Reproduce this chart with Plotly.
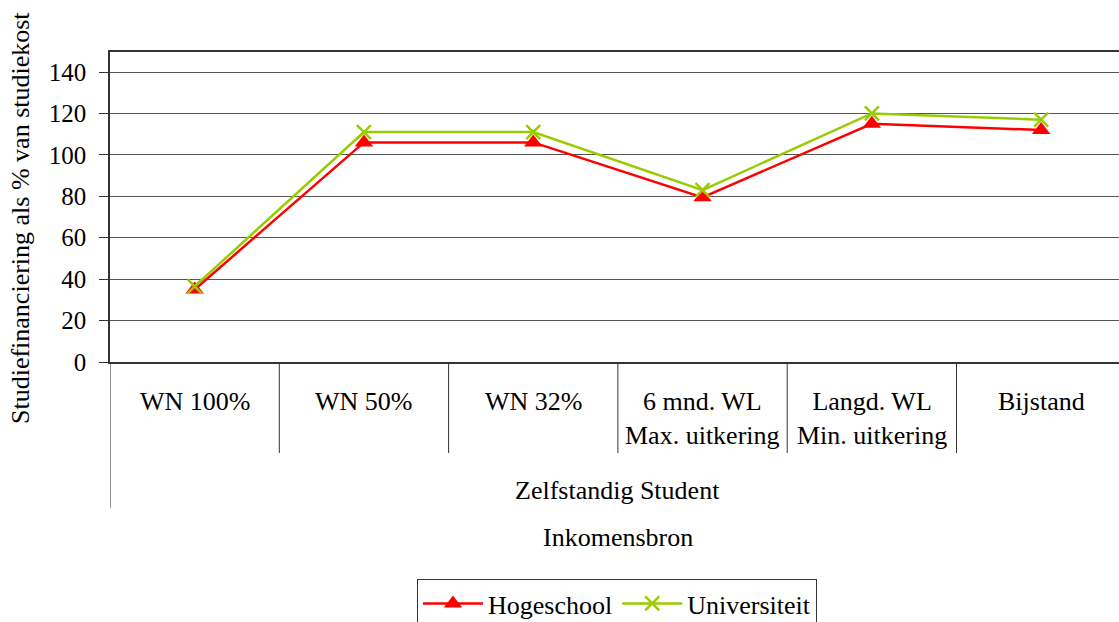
import plotly.graph_objects as go

categories = ["WN 100%", "WN 50%", "WN 32%", "6 mnd. WL<br>Max. uitkering",
              "Langd. WL<br>Min. uitkering", "Bijstand"]
group_label = "Zelfstandig Student"
hogeschool = [35, 106, 106, 79.5, 115, 112]
universiteit = [36.5, 111, 111, 83, 120, 117]
y_ticks = [0, 20, 40, 60, 80, 100, 120, 140]

FONT = "Liberation Serif"
FS = 26
W, H = 1119, 622
L, T = 110, 52
PLOT_BOTTOM = 362
B = H - PLOT_BOTTOM
plot_h = PLOT_BOTTOM - T  # 310 px


def py(pix):
    # pixel row -> paper y
    return (PLOT_BOTTOM - pix) / plot_h


def px(pix):
    # pixel column -> paper x
    return (pix - L) / (W - L)


xpos = [i + 0.5 for i in range(len(categories))]

fig = go.Figure()
fig.add_trace(go.Scatter(
    x=xpos, y=hogeschool, name="Hogeschool", mode="lines+markers",
    line=dict(color="#FF0000", width=2.5),
    marker=dict(symbol="triangle-up", size=16, color="#FF0000")
))
fig.add_trace(go.Scatter(
    x=xpos, y=universiteit, name="Universiteit", mode="lines+markers",
    line=dict(color="#99CC00", width=2.5),
    marker=dict(symbol="x-thin", size=14, line=dict(color="#99CC00", width=2.5))
))

# category separators (multi-level axis)
for i in range(1, len(categories)):
    fig.add_shape(type="line", xref="x", yref="paper", x0=i, x1=i, y0=0, y1=py(453),
                  line=dict(color="#333", width=1))
fig.add_shape(type="line", xref="x", yref="paper", x0=0, x1=0, y0=0, y1=py(508),
              line=dict(color="#333", width=1))

# category labels
for x, lab in zip(xpos, categories):
    fig.add_annotation(x=x, y=py(385), xref="x", yref="paper", text=lab, showarrow=False,
                       yanchor="top", font=dict(family=FONT, size=FS, color="black"))
fig.add_annotation(x=len(categories) / 2, y=py(491), xref="x", yref="paper", text=group_label,
                   showarrow=False, yanchor="middle", font=dict(family=FONT, size=FS, color="black"))
fig.add_annotation(x=len(categories) / 2, y=py(537), xref="x", yref="paper", text="Inkomensbron",
                   showarrow=False, yanchor="middle", font=dict(family=FONT, size=FS, color="black"))
fig.add_annotation(x=px(21), y=py(218), xref="paper", yref="paper",
                   text="Studiefinanciering als % van studiekost", textangle=-90,
                   showarrow=False, xanchor="center", yanchor="middle",
                   font=dict(family=FONT, size=FS, color="black"))

fig.update_layout(
    width=W, height=H,
    margin=dict(l=L, r=0, t=T, b=B, autoexpand=False),
    paper_bgcolor="white", plot_bgcolor="white",
    font=dict(family=FONT, size=FS, color="black"),
    showlegend=True,
    legend=dict(orientation="h", x=px(617), y=py(579), xanchor="center", yanchor="top",
                bordercolor="#333", borderwidth=1, font=dict(family=FONT, size=FS),
                itemwidth=60, tracegroupgap=0),
    xaxis=dict(range=[0, (W - L) / 169.3], showticklabels=False, showgrid=False, zeroline=False,
               showline=True, linecolor="#333", linewidth=1.5, mirror=True, fixedrange=True),
    yaxis=dict(range=[0, 140 * plot_h / 290], tickvals=y_ticks, showgrid=True, gridcolor="#555",
               gridwidth=1, zeroline=False, showline=True, linecolor="#333", linewidth=1.5,
               ticks="outside", ticklen=9, tickcolor="#333", ticklabelstandoff=8,
               tickfont=dict(family=FONT, size=25)),
)

fig.write_html("out.html", config={"displayModeBar": False},
               post_script="document.body.style.margin='0';")
